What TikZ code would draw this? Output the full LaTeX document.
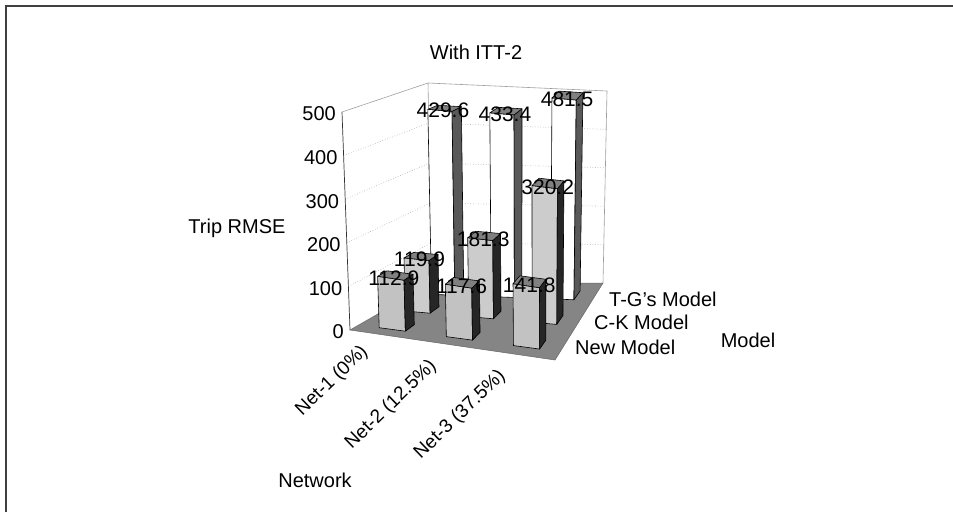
\documentclass[tikz,border=0pt]{standalone}
\usepackage{fontspec}
\setmainfont{Liberation Sans}
\usetikzlibrary{calc}
% point on the 3D chart: name, u (network axis), v (model axis), h (value)
\newcommand{\rkpt}[4]{%
  \pgfmathsetmacro\rkwa{(1-(#2))*(1-(#3))}%
  \pgfmathsetmacro\rkwb{(#2)*(1-(#3))}%
  \pgfmathsetmacro\rkwc{(1-(#2))*(#3)}%
  \pgfmathsetmacro\rkwd{(#2)*(#3)}%
  \pgfmathsetmacro\rkpx{\rkwa*350+\rkwb*555+\rkwc*432+\rkwd*603+(#4)/500*(\rkwa*(-8)+\rkwc*(-4)+\rkwd*4)}%
  \pgfmathsetmacro\rkpy{\rkwa*330+\rkwb*360+\rkwc*283+\rkwd*283-(#4)/500*(\rkwa*218+\rkwb*204+\rkwc*200+\rkwd*192)}%
  \coordinate (#1) at (\rkpx,\rkpy);%
}
% bar: id, u centre, v centre, value, front, side, top colours
\newcommand{\rkbar}[7]{%
  \pgfmathsetmacro\rkh{(#4)*1.06}%
  \pgfmathsetmacro\rkua{#2-0.065}\pgfmathsetmacro\rkub{#2+0.065}%
  \pgfmathsetmacro\rkva{#3-0.06}\pgfmathsetmacro\rkvb{#3+0.06}%
  \rkpt{#1a}{\rkua}{\rkva}{0}\rkpt{#1b}{\rkub}{\rkva}{0}\rkpt{#1c}{\rkub}{\rkvb}{0}%
  \rkpt{#1d}{\rkua}{\rkva}{\rkh}\rkpt{#1e}{\rkub}{\rkva}{\rkh}%
  \rkpt{#1f}{\rkub}{\rkvb}{\rkh}\rkpt{#1g}{\rkua}{\rkvb}{\rkh}%
  \draw[barline, fill=#5] (#1a) -- (#1b) -- (#1e) -- (#1d) -- cycle;
  \draw[barline, fill=#6] (#1b) -- (#1c) -- (#1f) -- (#1e) -- cycle;
  \draw[barline, fill=#7] (#1d) -- (#1e) -- (#1f) -- (#1g) -- cycle;
}
\begin{document}
\begin{tikzpicture}[x=1pt,y=-1pt,
  lbl/.style={font=\fontsize{20}{22}\selectfont, inner sep=0pt},
  catlbl/.style={font=\fontsize{19}{21}\selectfont, inner sep=0pt, rotate=44},
  datalbl/.style={font=\fontsize{21}{23}\selectfont, inner sep=0pt, xshift=3pt},
  barline/.style={draw=black, line width=0.6pt, line join=round},
  wallline/.style={draw=gray!75, line width=0.6pt},
  gridline/.style={draw=gray!65, dotted, line width=0.6pt},
  floorfill/.style={fill=black!48, draw=black!60, line width=0.5pt}]
\useasboundingbox (0,0) rectangle (953,512);
\fill[white] (0,0) rectangle (953,512);
% frame
\draw[black!75, line width=1.2pt] (6,512) -- (6,6) -- (953,6);
% walls
\rkpt{w000}{0}{0}{0}\rkpt{w010}{0}{1}{0}\rkpt{w110}{1}{1}{0}
\rkpt{w001}{0}{0}{500}\rkpt{w011}{0}{1}{500}\rkpt{w111}{1}{1}{500}
\rkpt{w100}{1}{0}{0}
\foreach \h in {100,200,300,400}{
  \rkpt{gl\h}{0}{0}{\h}\rkpt{gm\h}{0}{1}{\h}\rkpt{gr\h}{1}{1}{\h}
  \draw[gridline] (gl\h) -- (gm\h) -- (gr\h);
}
\draw[wallline] (w001) -- (w011) -- (w111) -- (w110);
\draw[wallline] (w011) -- (w010);
\draw[black!80, line width=0.7pt] (w000) -- (w001);
% floor
\draw[floorfill] (w000) -- (w100) -- (w110) -- (w010) -- cycle;
% bars: back row (T-G's Model)
\rkbar{b33}{5/6}{5/6}{481.5}{white}{black!65}{black!50}
\rkbar{b23}{1/2}{5/6}{433.4}{white}{black!65}{black!50}
\rkbar{b13}{1/6}{5/6}{429.6}{white}{black!65}{black!50}
% middle row (C-K Model)
\rkbar{b32}{5/6}{1/2}{320.2}{black!20}{black!85}{black!50}
\rkbar{b22}{1/2}{1/2}{181.3}{black!20}{black!85}{black!50}
\rkbar{b12}{1/6}{1/2}{119.9}{black!20}{black!85}{black!50}
% front row (New Model)
\rkbar{b31}{5/6}{1/6}{141.8}{black!24}{black!85}{black!50}
\rkbar{b21}{1/2}{1/6}{117.6}{black!24}{black!85}{black!50}
\rkbar{b11}{1/6}{1/6}{112.9}{black!24}{black!85}{black!50}
% data labels, centred on the top front edge of each bar
\node[datalbl] (l33) at ($(b33d)!0.5!(b33e)$) {481.5};
\node[datalbl] (l23) at ($(b23d)!0.5!(b23e)$) {433.4};
\node[datalbl] (l13) at ($(b13d)!0.5!(b13e)$) {429.6};
\node[datalbl] (l32) at ($(b32d)!0.5!(b32e)$) {320.2};
\node[datalbl] (l22) at ($(b22d)!0.5!(b22e)$) {181.3};
\node[datalbl] (l12) at ($(b12d)!0.5!(b12e)$) {119.9};
\node[datalbl] (l31) at ($(b31d)!0.5!(b31e)$) {141.8};
\node[datalbl] (l21) at ($(b21d)!0.5!(b21e)$) {117.6};
\node[datalbl] (l11) at ($(b11d)!0.5!(b11e)$) {112.9};
% value axis labels
\foreach \h in {0,100,200,300,400,500}{
  \rkpt{tk\h}{0}{0}{\h}
  \node[lbl, anchor=east] (tl\h) at ([xshift=-6pt,yshift=-2pt]tk\h) {\h};
}
% titles
\node[lbl] (title) at (476,52) {With ITT-2};
\node[lbl] (ytitle) at (237,228) {Trip RMSE};
\node[lbl] (xtitle) at (315,480) {Network};
\node[lbl] (ztitle) at (748,340) {Model};
% category labels
\node[catlbl] (n1) at (332,381) {Net-1 (0\%)};
\node[catlbl] (n2) at (391,405) {Net-2 (12.5\%)};
\node[catlbl] (n3) at (460,415) {Net-3 (37.5\%)};
% series labels
\node[lbl, anchor=west] (s3) at (609,299) {T-G's Model};
\node[lbl, anchor=west] (s2) at (594,322) {C-K Model};
\node[lbl, anchor=west] (s1) at (575,347) {New Model};
\end{tikzpicture}
\end{document}
